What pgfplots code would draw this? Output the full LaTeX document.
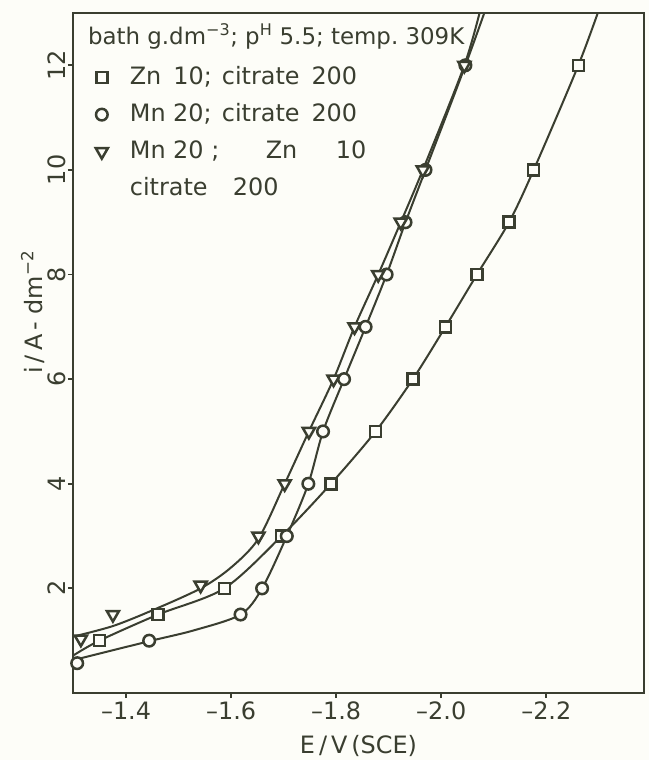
\documentclass[border=0pt]{standalone}
\usepackage{pgfplots}
\pgfplotsset{compat=1.18}
\usepackage{fontspec}
\setmainfont{DejaVu Sans}
\definecolor{ink}{RGB}{58,62,48}
\definecolor{paper}{RGB}{253,253,248}

% polarisation curves
% markers: E / V(SCE), i / A dm^-2
\pgfplotstableread{
E       i
-1.349  1.0
-1.461  1.5
-1.587  2.0
-1.696  3.0
-1.790  4.0
-1.875  5.0
-1.946  6.0
-2.008  7.0
-2.068  8.0
-2.129  9.0
-2.176  10.0
-2.261  12.0
}\znpts
\pgfplotstableread{
E       i
-1.307  0.57
-1.444  1.0
-1.618  1.5
-1.659  2.0
-1.706  3.0
-1.747  4.0
-1.775  5.0
-1.815  6.0
-1.856  7.0
-1.896  8.0
-1.932  9.0
-1.970  10.0
-2.046  12.0
}\mnpts
\pgfplotstableread{
E       i
-1.314  1.03
-1.375  1.5
-1.542  2.06
-1.652  3.0
-1.702  4.0
-1.748  5.0
-1.795  6.0
-1.835  7.0
-1.880  8.0
-1.923  9.0
-1.965  10.0
-2.044  12.0
}\mixpts

\begin{document}
\begin{tikzpicture}
\fill[paper] (-73bp,-67bp) rectangle (576bp,693bp);
\begin{axis}[
  scale only axis, width=571bp, height=680bp,
  x dir=reverse,
  xmin=-2.386, xmax=-1.299, ymin=0, ymax=13,
  axis line style={ink, line width=2.2bp},
  every tick/.style={ink, line width=1.8bp},
  tick align=outside, major tick length=5bp,
  xtick pos=bottom, ytick pos=left,
  xtick={-2.2,-2.0,-1.8,-1.6,-1.4},
  xticklabels={–2.2,–2.0,–1.8,–1.6,–1.4},
  ytick={2,4,6,8,10,12},
  /pgf/number format/assume math mode=true,
  tick label style={font=\fontsize{24}{28}\selectfont, text=ink},
  yticklabel style={rotate=90, anchor=south, inner sep=2bp},
  xticklabel style={inner sep=4bp},
  label style={font=\fontsize{24}{28}\selectfont, text=ink},
  xlabel={E\,/\,V\,(SCE)},
  ylabel={i\,/\,A\,- dm\textsuperscript{−2}},
  ylabel style={at={(ticklabel cs:0.56)}, anchor=near ticklabel, inner sep=1bp},
  xlabel style={inner sep=1bp, yshift=-10bp},
  legend style={at={(rel axis cs:0.03,0.928)}, anchor=north west,
    draw=none, fill=none, text=ink,
    font=\fontsize{24}{28}\selectfont,
    row sep=10bp, nodes={text height=18bp, text depth=5bp},
    /tikz/every odd column/.append style={column sep=20bp}},
  legend cell align=left,
]
% fitted curves
\addplot[ink, line width=2bp, smooth, forget plot] coordinates {
  (-1.300,0.72) (-1.349,1.0) (-1.461,1.5) (-1.587,2.0) (-1.696,3.0)
  (-1.790,4.0) (-1.875,5.0) (-1.946,6.0) (-2.008,7.0) (-2.068,8.0)
  (-2.129,9.0) (-2.176,10.0) (-2.261,12.0) (-2.305,13.2)};
\addplot[ink, line width=2bp, smooth, forget plot] coordinates {
  (-1.300,0.63) (-1.444,0.99) (-1.530,1.20) (-1.618,1.5) (-1.659,2.0)
  (-1.706,3.0) (-1.747,4.0) (-1.775,5.0) (-1.815,6.0) (-1.856,7.0)
  (-1.896,8.0) (-1.932,9.0) (-1.970,10.0) (-2.046,12.0) (-2.089,13.2)};
\addplot[ink, line width=2bp, smooth, forget plot] coordinates {
  (-1.300,1.08) (-1.375,1.28) (-1.450,1.58) (-1.542,2.0) (-1.600,2.40)
  (-1.652,2.95) (-1.702,4.0) (-1.748,5.0) (-1.795,6.0) (-1.835,7.0)
  (-1.880,8.0) (-1.923,9.0) (-1.965,10.0) (-2.044,12.0) (-2.078,13.2)};
% measured points
\addplot[only marks, mark=square*, mark size=5.5bp,
  mark options={draw=ink, fill=paper, line width=2.5bp, solid}] table[x=E,y=i] {\znpts};
\addlegendentry{\makebox[92bp][l]{Zn\enspace 10;}citrate\enspace 200}
\addplot[only marks, mark=*, mark size=5.8bp,
  mark options={draw=ink, fill=paper, line width=2.5bp, solid}] table[x=E,y=i] {\mnpts};
\addlegendentry{\makebox[92bp][l]{Mn 20;}citrate\enspace 200}
\addplot[only marks, mark=triangle*, mark size=7bp,
  mark options={draw=ink, fill=paper, line width=2.5bp, solid, rotate=180}] table[x=E,y=i] {\mixpts};
\addlegendentry{\makebox[136bp][l]{Mn 20 ;}\makebox[70bp][l]{Zn}10}
\addlegendimage{empty legend}
\addlegendentry{\makebox[103bp][l]{citrate}200}
\node[anchor=base west, font=\fontsize{23}{27}\selectfont, text=ink, inner sep=0pt]
  at (rel axis cs:0.026,0.953)
  {bath g.dm\textsuperscript{−3}; p\textsuperscript{H} 5.5; temp.\ 309K};
\end{axis}
\pgfresetboundingbox
\path[use as bounding box] (-73bp,-67bp) rectangle (576bp,693bp);
\end{tikzpicture}
\end{document}
